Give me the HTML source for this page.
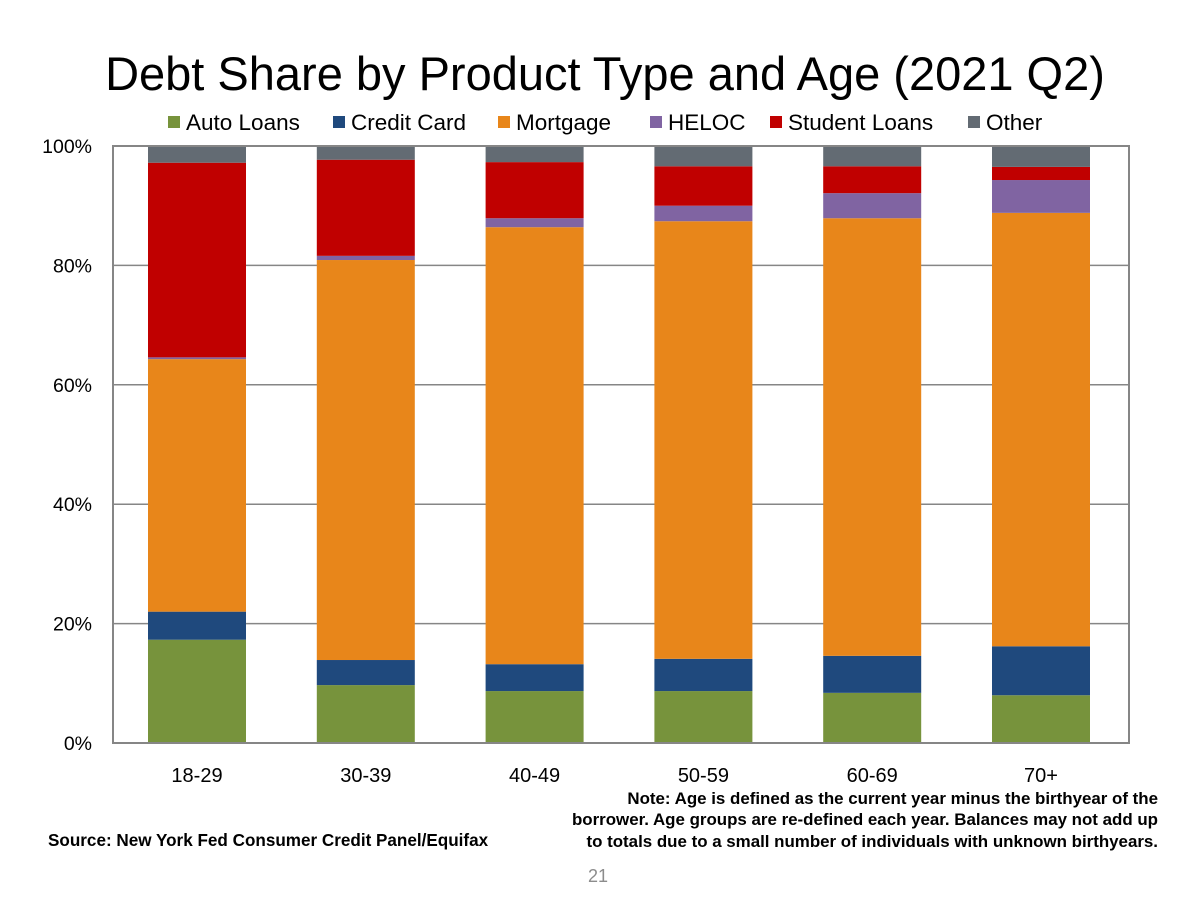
<!DOCTYPE html>
<html><head><meta charset="utf-8"><style>
body{margin:0;background:#fff;font-family:"Liberation Sans",Arial,sans-serif;}
svg{display:block}
</style></head><body>
<svg id="c" width="1200" height="900" xmlns="http://www.w3.org/2000/svg">
<text x="605" y="90" font-size="47" text-anchor="middle">Debt Share by Product Type and Age (2021 Q2)</text>
<g id="legend"></g>
<g id="grid"></g>
<g id="bars"></g>
<rect x="113" y="146" width="1016" height="597" fill="none" stroke="#868686" stroke-width="2"/>
<g id="ylab"></g>
<g id="xlab"></g>
<g font-size="16.9" font-weight="bold" text-anchor="end">
<text x="1158" y="804">Note: Age is defined as the current year minus the birthyear of the</text>
<text x="1158" y="825">borrower. Age groups are re-defined each year. Balances may not add up</text>
<text x="1158" y="847">to totals due to a small number of individuals with unknown birthyears.</text>
</g>
<text x="48" y="846" font-size="17.1" font-weight="bold">Source: New York Fed Consumer Credit Panel/Equifax</text>
<text x="598" y="882" font-size="18" fill="#8c8c8c" text-anchor="middle">21</text>
</svg>
<script>
const categories=["18-29","30-39","40-49","50-59","60-69","70+"];
const seriesNames=["Auto Loans","Credit Card","Mortgage","HELOC","Student Loans","Other"];
const autoLoans=[17.3,9.7,8.7,8.7,8.4,8.0];
const creditCard=[4.7,4.2,4.5,5.4,6.2,8.2];
const mortgage=[42.3,67.0,73.2,73.3,73.3,72.6];
const heloc=[0.3,0.7,1.5,2.6,4.2,5.5];
const studentLoans=[32.6,16.1,9.4,6.6,4.5,2.2];
const other=[2.8,2.3,2.7,3.4,3.4,3.5];
const yTicks=[0,20,40,60,80,100];
const colors=["#77933C","#1F497D","#E8861A","#8064A2","#C00000","#636B73"];
const series=[autoLoans,creditCard,mortgage,heloc,studentLoans,other];
const NS="http://www.w3.org/2000/svg";
const x0=113,x1=1129,yb=743,yt=146;
const y=v=>yb-(v/100)*(yb-yt);
const band=168.8;
const bw=98;
const xc=i=>112.6+band*(i+0.5);
function mk(t,a,p){const e=document.createElementNS(NS,t);for(const k in a)e.setAttribute(k,a[k]);p.appendChild(e);return e;}
const grid=document.getElementById('grid'),ylab=document.getElementById('ylab');
yTicks.forEach(t=>{
 const l=mk('line',{x1:x0,x2:x1,y1:y(t),y2:y(t),stroke:'#868686','stroke-width':1.5},grid);
 
 
 const tx=mk('text',{x:92,y:y(t)+7,'font-size':19.5,'text-anchor':'end'},ylab);
 tx.textContent=t+'%';
 
 
});
const bars=document.getElementById('bars'),xlab=document.getElementById('xlab');
categories.forEach((c,i)=>{
 let cum=0;
 series.forEach((s,j)=>{
  const v=s[i];
  const r=mk('rect',{x:xc(i)-bw/2,y:y(cum+v),width:bw,height:y(cum)-y(cum+v),fill:colors[j]},bars);
  
  
  cum+=v;
 });
 const tx=mk('text',{x:xc(i),y:782,'font-size':20,'text-anchor':'middle'},xlab);
 tx.textContent=c;
 
 
});
const lg=document.getElementById('legend');
const lx=[168,333,498,650,770,968];
seriesNames.forEach((n,j)=>{
 const g=mk('g',{},lg);
 
 
 mk('rect',{x:lx[j],y:116,width:12,height:12,fill:colors[j]},g);
 const t=mk('text',{x:lx[j]+18,y:130,'font-size':22.5},g);
 t.textContent=n;
});
</script>
</body></html>
